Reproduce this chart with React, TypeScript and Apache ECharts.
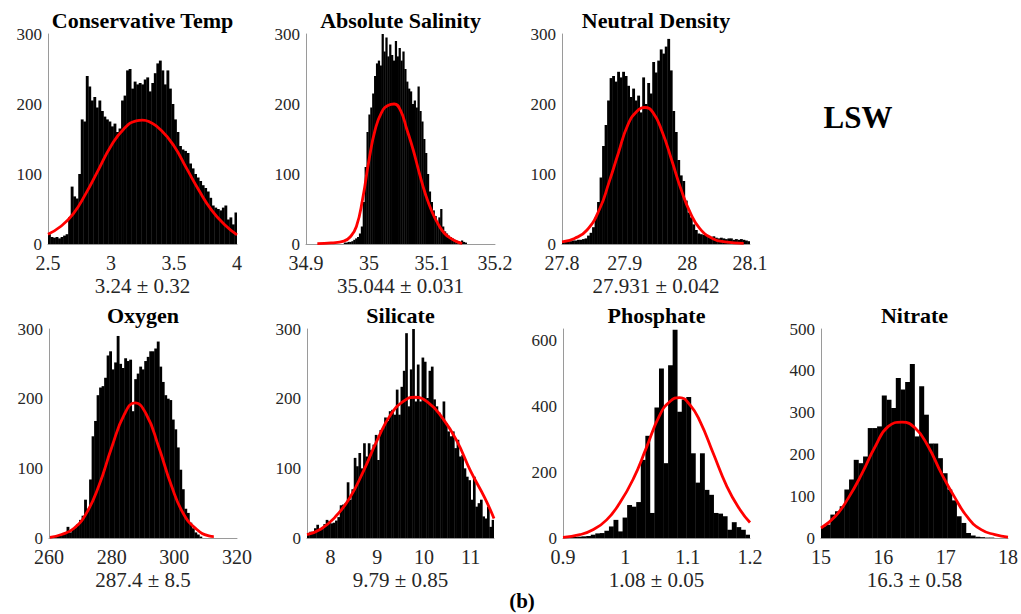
import React, { useEffect, useRef } from "react";
import * as echarts from "echarts";

// ---------- text ----------
const panelTitles = ["Conservative Temp", "Absolute Salinity", "Neutral Density", "Oxygen", "Silicate", "Phosphate", "Nitrate"];
const panelStats = ["3.24 \u00b1 0.32", "35.044 \u00b1 0.031", "27.931 \u00b1 0.042", "287.4 \u00b1 8.5", "9.79 \u00b1 0.85", "1.08 \u00b1 0.05", "16.3 \u00b1 0.58"];
const waterMass = "LSW";
const figureTag = "(b)";

// ---------- axis ranges and tick labels ----------
const xMin = [2.5, 34.9, 27.8, 260, 7.5, 0.9, 15];
const xMax = [4, 35.2, 28.1, 320, 11.5, 1.2, 18];
const xTicks = [
  [2.5, 3, 3.5, 4],
  [34.9, 35, 35.1, 35.2],
  [27.8, 27.9, 28, 28.1],
  [260, 280, 300, 320],
  [8, 9, 10, 11],
  [0.9, 1, 1.1, 1.2],
  [15, 16, 17, 18],
];
const yMax = [300, 300, 300, 300, 300, 634, 500];
const yTicks = [
  [0, 100, 200, 300],
  [0, 100, 200, 300],
  [0, 100, 200, 300],
  [0, 100, 200, 300],
  [0, 100, 200, 300],
  [0, 200, 400, 600],
  [0, 100, 200, 300, 400, 500],
];

// ---------- histograms (first bin edge, bin width, counts) ----------
const ctStart = 2.5, ctWidth = 0.02;
const ctCounts = [14,10,9,10,8,10,12,14,38,82,68,65,100,178,175,240,225,205,210,195,205,190,182,178,175,168,172,160,165,205,212,248,250,222,232,228,230,228,235,238,218,230,244,258,262,248,228,248,222,200,178,160,140,135,133,130,115,108,100,95,90,84,80,75,66,55,52,50,48,52,55,35,38,28,45];

const saStart = 34.96, saWidth = 0.003;
const saCounts = [2,2,3,3,4,6,8,10,15,25,60,110,160,185,195,215,240,258,262,255,300,275,295,268,285,270,262,290,268,280,262,275,250,232,222,218,200,205,195,225,190,175,150,130,100,75,60,48,40,30,38,50,25,18,15,12,10,8,6,5,4,3,5,3,2];

const ndStart = 27.8, ndWidth = 0.004;
const ndCounts = [3,3,4,4,5,5,6,6,7,8,12,16,24,38,60,95,140,170,205,237,240,232,246,238,246,240,226,210,222,205,212,188,238,200,230,215,260,245,262,278,272,282,293,248,190,160,120,98,90,62,45,38,28,20,15,14,13,12,11,10,11,9,8,9,8,7,8,8,6,7,6,7,6,5,4];

const oxStart = 261.6, oxWidth = 0.8;
const oxCounts = [2,3,4,6,8,16,8,12,15,20,26,32,55,42,84,146,168,205,216,218,230,262,268,242,252,290,250,244,258,254,256,182,228,236,246,242,254,260,268,268,272,282,246,224,205,200,198,170,156,130,98,70,42,36,22,14,8,5,2];

const siStart = 7.5, siWidth = 0.05;
const siCounts = [7,9,9,14,19,12,13,20,26,24,21,22,25,30,47,48,50,80,55,70,115,103,122,100,136,117,136,126,134,148,112,155,157,173,168,182,184,177,213,177,217,240,294,189,242,301,196,249,196,259,253,201,240,246,199,189,180,175,196,165,153,146,153,129,141,117,119,100,88,83,55,88,45,50,55,31,28,45,16,26];

const phStart = 0.908, phWidth = 0.0073;
const phCounts = [3,3,4,5,6,10,14,15,22,35,55,20,62,100,95,109,237,310,76,396,514,227,524,632,383,420,428,257,168,257,146,131,76,74,66,25,48,33,25,10];

const niStart = 15, niWidth = 0.075;
const niCounts = [28,32,56,64,76,116,140,187,179,195,263,263,267,341,331,311,383,355,373,416,243,363,295,226,226,191,155,116,90,52,36,12,6,3,2,1,1,0,0,0];

// ---------- fitted normal curves ----------
const ctCurve = [[2.5,14],[2.6,25],[2.7,43],[2.8,72],[2.9,106],[3.0,140],[3.1,164],[3.2,176],[3.25,177],[3.3,175],[3.4,162],[3.5,140],[3.6,108],[3.7,76],[3.8,48],[3.9,28],[4.0,13]];
const saCurve = [[34.918,0.5],[34.94,1.5],[34.96,4],[34.97,10],[34.98,25],[34.99,65],[35.0,120],[35.01,164],[35.02,188],[35.03,198],[35.04,200],[35.05,191],[35.06,164],[35.07,135],[35.08,101],[35.09,70],[35.1,46],[35.11,28],[35.12,15],[35.13,8],[35.14,3],[35.148,1]];
const ndCurve = [[27.8,3],[27.82,8],[27.84,20],[27.86,50],[27.875,88],[27.89,130],[27.905,170],[27.92,190],[27.932,195],[27.945,188],[27.96,160],[27.975,120],[27.99,78],[28.005,44],[28.02,22],[28.04,8],[28.06,3],[28.09,1]];
const oxCurve = [[260.3,1],[264,5],[268,14],[272,36],[276,76],[280,130],[284,177],[287.4,194],[291,178],[295,131],[299,76],[303,34],[307,13],[311,3],[312.6,2]];
const siCurve = [[7.5,5],[7.8,13],[8.1,30],[8.4,56],[8.7,95],[9.0,140],[9.3,178],[9.6,198],[9.8,202],[10.1,194],[10.4,172],[10.7,140],[11.0,96],[11.3,58],[11.5,28]];
const phCurve = [[0.9,2],[0.927,10],[0.948,25],[0.97,55],[0.991,106],[1.013,180],[1.034,275],[1.055,372],[1.072,415],[1.087,426],[1.104,403],[1.12,353],[1.141,257],[1.163,156],[1.184,86],[1.2,47]];
const niCurve = [[15,24],[15.23,52],[15.44,96],[15.66,155],[15.87,219],[16.08,267],[16.3,277],[16.51,263],[16.72,219],[16.93,155],[17.15,96],[17.36,48],[17.57,20],[17.79,8],[18,2]];

const histStarts = [ctStart, saStart, ndStart, oxStart, siStart, phStart, niStart];
const histWidths = [ctWidth, saWidth, ndWidth, oxWidth, siWidth, phWidth, niWidth];
const histCounts = [ctCounts, saCounts, ndCounts, oxCounts, siCounts, phCounts, niCounts];
const curves = [ctCurve, saCurve, ndCurve, oxCurve, siCurve, phCurve, niCurve];

// ---------- layout (pixels) ----------
const grids = [
  { left: 48, top: 34, width: 189, height: 210 },
  { left: 306, top: 34, width: 189, height: 210 },
  { left: 562, top: 34, width: 188, height: 210 },
  { left: 49, top: 329, width: 188, height: 209 },
  { left: 307, top: 329, width: 187, height: 209 },
  { left: 563, top: 329, width: 187, height: 209 },
  { left: 821, top: 329, width: 187, height: 209 },
];

const FONT = "Liberation Serif";
const AXIS_COLOR = "#9a9a9a";
const LABEL_COLOR = "#262626";

function buildOption() {
  const grid: any[] = [];
  const xAxis: any[] = [];
  const yAxis: any[] = [];
  const series: any[] = [];
  const graphic: any[] = [];

  grids.forEach((g, i) => {
    grid.push({ left: g.left, top: g.top, width: g.width, height: g.height, containLabel: false });
    xAxis.push({
      type: "value",
      gridIndex: i,
      min: xMin[i],
      max: xMax[i],
      axisLine: { show: true, onZero: false, lineStyle: { color: AXIS_COLOR, width: 1 } },
      axisTick: { show: false },
      splitLine: { show: false },
      axisLabel: {
        customValues: xTicks[i],
        fontFamily: FONT,
        fontSize: 20,
        color: LABEL_COLOR,
        margin: 9,
      },
    });
    yAxis.push({
      type: "value",
      gridIndex: i,
      min: 0,
      max: yMax[i],
      axisLine: { show: true, onZero: false, lineStyle: { color: AXIS_COLOR, width: 1 } },
      axisTick: { show: false },
      splitLine: { show: false },
      axisLabel: {
        customValues: yTicks[i],
        fontFamily: FONT,
        fontSize: 17,
        color: LABEL_COLOR,
        margin: 6,
      },
    });

    const start = histStarts[i];
    const w = histWidths[i];
    const bins = histCounts[i].map((c, k) => [start + k * w, start + (k + 1) * w, c]);
    series.push({
      type: "custom",
      xAxisIndex: i,
      yAxisIndex: i,
      clip: true,
      data: bins,
      encode: { x: [0, 1], y: 2 },
      renderItem: (params: any, api: any) => {
        const p0 = api.coord([api.value(0), api.value(2)]);
        const p1 = api.coord([api.value(1), 0]);
        return {
          type: "rect",
          shape: { x: p0[0], y: p0[1], width: p1[0] - p0[0] + 0.35, height: p1[1] - p0[1] },
          style: { fill: "#000000" },
        };
      },
      z: 2,
    });
    series.push({
      type: "line",
      xAxisIndex: i,
      yAxisIndex: i,
      data: curves[i],
      smooth: true,
      symbol: "none",
      showSymbol: false,
      clip: true,
      lineStyle: { color: "#ff0000", width: 2.8 },
      z: 3,
    });

    const cx = g.left + g.width / 2;
    graphic.push({
      type: "text",
      x: cx,
      y: g.top - 14,
      style: {
        text: panelTitles[i],
        fill: "#000000",
        fontFamily: FONT,
        fontWeight: "bold",
        fontSize: 22,
        textAlign: "center",
        textVerticalAlign: "middle",
      },
    });
    graphic.push({
      type: "text",
      x: cx,
      y: g.top + g.height + 42,
      style: {
        text: panelStats[i],
        fill: LABEL_COLOR,
        fontFamily: FONT,
        fontSize: 21,
        textAlign: "center",
        textVerticalAlign: "middle",
      },
    });
  });

  graphic.push({
    type: "text",
    x: 858,
    y: 117,
    style: {
      text: waterMass,
      fill: "#000000",
      fontFamily: FONT,
      fontWeight: "bold",
      fontSize: 31,
      textAlign: "center",
      textVerticalAlign: "middle",
    },
  });
  graphic.push({
    type: "text",
    x: 522,
    y: 601,
    style: {
      text: figureTag,
      fill: "#000000",
      fontFamily: FONT,
      fontWeight: "bold",
      fontSize: 21,
      textAlign: "center",
      textVerticalAlign: "middle",
    },
  });

  return {
    animation: false,
    backgroundColor: "#ffffff",
    grid,
    xAxis,
    yAxis,
    series,
    graphic,
  };
}

export default function App() {
  const ref = useRef<HTMLDivElement>(null);
  useEffect(() => {
    if (!ref.current) return;
    const chart = echarts.init(ref.current, null, { renderer: "svg" });
    chart.setOption(buildOption());
    return () => chart.dispose();
  }, []);
  return (
    <div
      ref={ref}
      style={{ position: "absolute", left: 0, top: 0, width: 1021, height: 614, background: "#ffffff" }}
    />
  );
}
